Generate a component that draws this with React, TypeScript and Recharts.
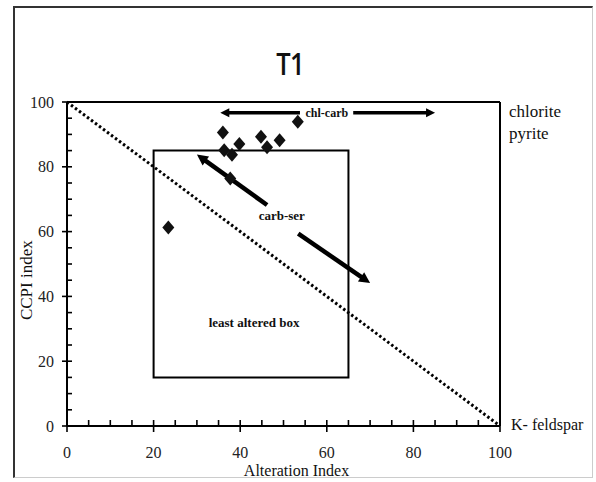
import React from 'react';
import { ScatterChart, Scatter, XAxis, YAxis, ReferenceLine, ReferenceArea, ReferenceDot } from 'recharts';

// Sample points (Alteration Index, CCPI index)
const alterationIndex = [23.4, 36.0, 36.3, 38.1, 39.8, 37.7, 44.8, 46.2, 49.1, 53.3];
const ccpiIndex = [61.3, 90.6, 85.1, 83.7, 87.0, 76.4, 89.3, 86.0, 88.2, 93.9];

const axisTicks = [0, 5, 10, 15, 20, 25, 30, 35, 40, 45, 50, 55, 60, 65, 70, 75, 80, 85, 90, 95, 100];
const leastAlteredX = [20, 65];
const leastAlteredY = [15, 85];

// arrows: [x tail, y tail, x head, y head]
const chlCarbLeft = [53.8, 96.7, 35.4, 96.7];
const chlCarbRight = [66.1, 96.7, 85.0, 96.7];
const carbSerUp = [46.2, 68.2, 30.0, 83.8];
const carbSerDown = [53.4, 59.4, 70.0, 44.1];

const points = alterationIndex.map((x, i) => ({ x, y: ccpiIndex[i] }));

const SERIF = '"Liberation Serif", "DejaVu Serif", serif';

const Diamond = (p: any) => {
  const { cx, cy } = p;
  if (cx == null || cy == null) return null;
  return <polygon points={`${cx},${cy - 7} ${cx + 6},${cy} ${cx},${cy + 7} ${cx - 6},${cy}`} fill="#111" />;
};

const YTick = (p: any) => {
  const { x, y, payload } = p;
  const v = payload.value;
  const major = v % 20 === 0;
  return (
    <g>
      <line x1={major ? x - 5 : x} x2={x + 5} y1={y} y2={y} stroke="#000" strokeWidth={1.6} />
      {major && (
        <text x={x - 13} y={y} textAnchor="end" dominantBaseline="central" fontFamily={SERIF} fontSize={16} fill="#222">
          {v}
        </text>
      )}
    </g>
  );
};

const XTick = (p: any) => {
  const { x, y, payload } = p;
  const v = payload.value;
  const major = v % 20 === 0;
  return (
    <g>
      <line x1={x} x2={x} y1={y - 6} y2={major ? y + 6 : y} stroke="#000" strokeWidth={1.6} />
      {major && (
        <text x={x} y={y + 26} textAnchor="middle" dominantBaseline="central" fontFamily={SERIF} fontSize={16} fill="#222">
          {v}
        </text>
      )}
    </g>
  );
};

const makeArrow = (w: number, headLen: number, headW: number) => (p: any) => {
  const { x1, y1, x2, y2 } = p;
  if ([x1, y1, x2, y2].some((v) => v == null || isNaN(v))) return null;
  const dx = x2 - x1;
  const dy = y2 - y1;
  const len = Math.sqrt(dx * dx + dy * dy);
  const ux = dx / len;
  const uy = dy / len;
  const bx = x2 - ux * headLen;
  const by = y2 - uy * headLen;
  const nx = -uy;
  const ny = ux;
  return (
    <g>
      <line x1={x1} y1={y1} x2={bx + ux * 1} y2={by + uy * 1} stroke="#000" strokeWidth={w} />
      <polygon
        points={`${x2},${y2} ${bx + nx * headW},${by + ny * headW} ${bx - nx * headW},${by - ny * headW}`}
        fill="#000"
      />
    </g>
  );
};

const thinArrow = makeArrow(3.5, 9, 4.5);
const thickArrow = makeArrow(4.5, 11, 5.5);

const textShape = (label: string, dx: number, dy: number, opts: any = {}) => (p: any) => {
  const { cx, cy } = p;
  if (cx == null || cy == null) return null;
  return (
    <text
      x={cx + dx}
      y={cy + dy}
      dominantBaseline="central"
      fontFamily={SERIF}
      fontSize={opts.fontSize ?? 16}
      fontWeight={opts.bold ? 'bold' : 'normal'}
      textAnchor={opts.anchor ?? 'start'}
      fill="#111"
      transform={opts.rotate ? `rotate(-90 ${cx + dx} ${cy + dy})` : undefined}
    >
      {label}
    </text>
  );
};

export default function App() {
  return (
    <div style={{ position: 'absolute', left: 0, top: 0, width: 596, height: 482, background: '#fff' }}>
      <div
        style={{
          position: 'absolute',
          left: 13,
          top: 6,
          width: 580,
          height: 472,
          borderTop: '2px solid #333',
          borderLeft: '2px solid #333',
          borderRight: '1px solid #ccc',
          borderBottom: '1px solid #ccc',
          boxSizing: 'border-box',
        }}
      />
      <div
        style={{
          position: 'absolute',
          left: 0,
          top: 44,
          width: 580,
          textAlign: 'center',
          fontFamily: '"Open Sans", "Noto Sans", sans-serif',
          fontWeight: 600,
          fontSize: 30,
          lineHeight: '40px',
          color: '#111',
          letterSpacing: -1,
          transform: 'scaleX(0.85)',
        }}
      >
        T1
      </div>
      <div style={{ position: 'absolute', left: 0, top: 0 }}>
        <ScatterChart width={596} height={482} margin={{ top: 102, right: 96, bottom: 26, left: 27 }}>
          <XAxis
            type="number"
            dataKey="x"
            domain={[0, 100]}
            ticks={axisTicks}
            interval={0}
            tickSize={0}
            tickMargin={0}
            height={30}
            tick={<XTick />}
            tickLine={false}
            axisLine={{ stroke: '#000', strokeWidth: 2 }}
          />
          <YAxis
            type="number"
            dataKey="y"
            domain={[0, 100]}
            ticks={axisTicks}
            interval={0}
            tickSize={0}
            tickMargin={0}
            width={40}
            tick={<YTick />}
            tickLine={false}
            axisLine={{ stroke: '#000', strokeWidth: 2 }}
          />
          <ReferenceLine y={100} stroke="#000" strokeWidth={2} />
          <ReferenceLine x={100} stroke="#000" strokeWidth={2} />
          <ReferenceArea
            x1={leastAlteredX[0]}
            x2={leastAlteredX[1]}
            y1={leastAlteredY[0]}
            y2={leastAlteredY[1]}
            fill="none"
            fillOpacity={0}
            stroke="#000"
            strokeWidth={2}
          />
          <ReferenceLine
            segment={[{ x: 0, y: 100 }, { x: 100, y: 0 }]}
            stroke="#000"
            strokeWidth={3}
            strokeDasharray="2.5 2.5"
          />
          <ReferenceLine
            segment={[{ x: chlCarbLeft[0], y: chlCarbLeft[1] }, { x: chlCarbLeft[2], y: chlCarbLeft[3] }]}
            shape={thinArrow}
          />
          <ReferenceLine
            segment={[{ x: chlCarbRight[0], y: chlCarbRight[1] }, { x: chlCarbRight[2], y: chlCarbRight[3] }]}
            shape={thinArrow}
          />
          <ReferenceLine
            segment={[{ x: carbSerUp[0], y: carbSerUp[1] }, { x: carbSerUp[2], y: carbSerUp[3] }]}
            shape={thickArrow}
          />
          <ReferenceLine
            segment={[{ x: carbSerDown[0], y: carbSerDown[1] }, { x: carbSerDown[2], y: carbSerDown[3] }]}
            shape={thickArrow}
          />
          <Scatter data={points} shape={Diamond} isAnimationActive={false} />
          <ReferenceDot x={60} y={96.7} shape={textShape('chl-carb', 0, 0, { bold: true, fontSize: 12, anchor: 'middle' })} />
          <ReferenceDot x={49.6} y={65.1} shape={textShape('carb-ser', 0, 0, { bold: true, fontSize: 13, anchor: 'middle' })} />
          <ReferenceDot x={43.2} y={31.8} shape={textShape('least  altered box', 0, 0, { bold: true, fontSize: 13, anchor: 'middle' })} />
          <ReferenceDot x={100} y={100} shape={textShape('chlorite', 9, 9, { fontSize: 17 })} />
          <ReferenceDot x={100} y={100} shape={textShape('pyrite', 9, 31, { fontSize: 17 })} />
          <ReferenceDot x={100} y={0} shape={textShape('K- feldspar', 11, -2, { fontSize: 16 })} />
          <ReferenceDot x={0} y={45} shape={textShape('CCPI index', -40, 0, { fontSize: 17, anchor: 'middle', rotate: true })} />
          <ReferenceDot x={53} y={0} shape={textShape('Alteration Index', 0, 44, { fontSize: 16, anchor: 'middle' })} />
        </ScatterChart>
      </div>
    </div>
  );
}
